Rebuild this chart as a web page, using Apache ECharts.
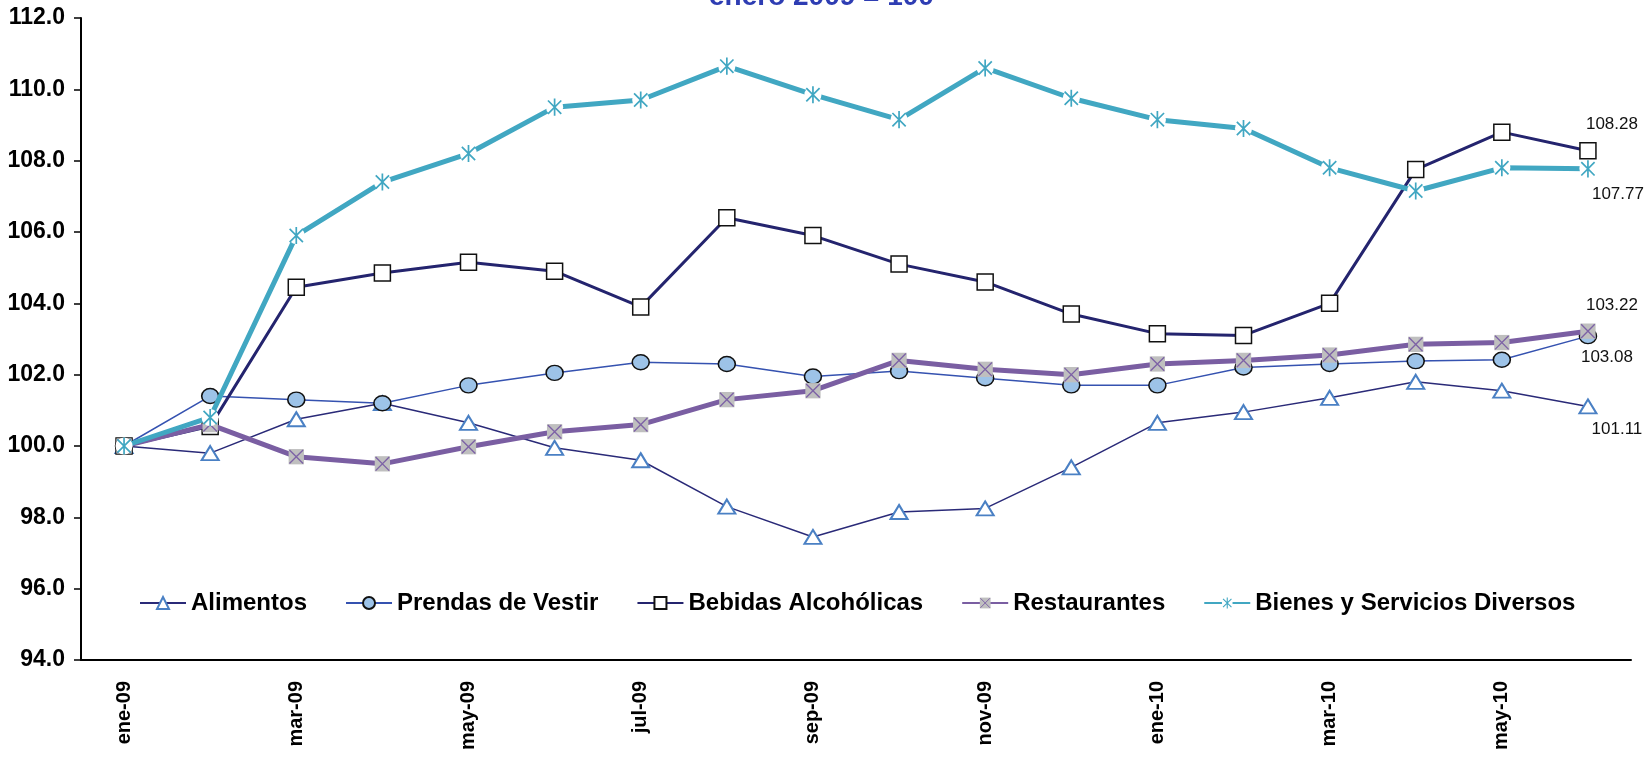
<!DOCTYPE html>
<html>
<head>
<meta charset="utf-8">
<script src="https://cdn.jsdelivr.net/npm/echarts@6/dist/echarts.min.js"></script>
<style>
  html, body { margin: 0; padding: 0; background: #fff; }
  #main { width: 1652px; height: 758px; }
</style>
</head>
<body>
<div id="main"></div>
<script>
// meses
const meses = ['ene-09','feb-09','mar-09','abr-09','may-09','jun-09','jul-09','ago-09','sep-09','oct-09','nov-09','dic-09',
               'ene-10','feb-10','mar-10','abr-10','may-10','jun-10'];

// indices (enero 2009 = 100)
const alimentos    = [100, 99.8, 100.75, 101.2, 100.65, 99.95, 99.6, 98.3, 97.45, 98.15, 98.25, 99.4, 100.65, 100.95, 101.35, 101.8, 101.55, 101.11];
const prendas      = [100, 101.4, 101.3, 101.2, 101.7, 102.05, 102.35, 102.3, 101.95, 102.1, 101.9, 101.7, 101.7, 102.2, 102.3, 102.38, 102.42, 103.08];
const bebidas      = [100, 100.55, 104.45, 104.85, 105.15, 104.9, 103.9, 106.4, 105.9, 105.1, 104.6, 103.7, 103.15, 103.1, 104.0, 107.75, 108.8, 108.28];
const restaurantes = [100, 100.6, 99.7, 99.5, 99.98, 100.4, 100.6, 101.3, 101.55, 102.4, 102.15, 102.0, 102.3, 102.4, 102.55, 102.85, 102.9, 103.22];
const bienes       = [100, 100.8, 105.9, 107.4, 108.2, 109.5, 109.7, 110.65, 109.85, 109.15, 110.6, 109.75, 109.15, 108.9, 107.8, 107.15, 107.8, 107.77];

const yTicks = { min: 94, max: 112, step: 2 };

const font = 'Liberation Sans, Arial, sans-serif';

// marcadores estilo excel como svg
function svgIcon(body) {
  return 'image://data:image/svg+xml;charset=utf-8,' + encodeURIComponent(
    "<svg xmlns='http://www.w3.org/2000/svg' width='20' height='20' viewBox='0 0 20 20'>" + body + "</svg>");
}
const markRest = svgIcon("<rect x='1' y='1' width='18' height='18' fill='#bfbfbf'/><path d='M2 2L18 18M18 2L2 18' stroke='#7d62a6' stroke-width='1.6'/>");
const markBien = svgIcon("<circle cx='10' cy='10' r='9' fill='#fff'/><path d='M3 3L17 17M17 3L3 17M10 1L10 19' stroke='#41a7c2' stroke-width='1.8'/>");

// solo la etiqueta del ultimo punto (centrada en el punto + desplazamiento)
function lastLabel(arr, offset) {
  return arr.map((v, i) => i === arr.length - 1 ? {
    value: v,
    label: { show: true, position: 'inside', align: 'center', verticalAlign: 'middle',
             offset: offset, formatter: v.toFixed(2),
             color: '#111', fontSize: 17, fontFamily: font }
  } : v);
}

const chart = echarts.init(document.getElementById('main'));
chart.setOption({
  backgroundColor: '#fff',
  animation: false,
  title: {
    text: 'enero 2009 = 100',
    left: 704, top: -22,
    textStyle: { color: '#2e3db3', fontSize: 28, fontWeight: 'bold', fontFamily: font }
  },
  legend: {
    top: 586, left: 134,
    itemWidth: 46, itemHeight: 15, itemGap: 38,
    textStyle: { color: '#000', fontSize: 24, fontWeight: 'bold', fontFamily: font },
    data: ['Alimentos', 'Prendas de Vestir', 'Bebidas Alcohólicas', 'Restaurantes', 'Bienes y Servicios Diversos']
  },
  grid: { left: 81, right: 21, top: 18, bottom: 98, containLabel: false },
  xAxis: {
    type: 'category',
    data: meses,
    boundaryGap: true,
    axisLine: { lineStyle: { color: '#000', width: 2 } },
    axisTick: { interval: 1, length: 10, lineStyle: { color: '#000', width: 1.5 } },
    axisLabel: { interval: 1, rotate: 90, margin: 21, color: '#000', fontSize: 20, fontWeight: 'bold',
                 fontFamily: font }
  },
  yAxis: {
    type: 'value',
    min: yTicks.min, max: yTicks.max, interval: yTicks.step,
    axisLine: { show: true, lineStyle: { color: '#000', width: 2 } },
    axisTick: { show: true, length: 7, lineStyle: { color: '#000', width: 1.5 } },
    splitLine: { show: false },
    axisLabel: { margin: 16, color: '#000', fontSize: 23, fontWeight: 'bold', fontFamily: font,
                 formatter: v => v.toFixed(1) }
  },
  series: [
    {
      name: 'Alimentos', type: 'line', data: lastLabel(alimentos, [29, 23]),
      symbol: 'triangle', symbolSize: [17, 14],
      lineStyle: { color: '#2a2a78', width: 1.5 },
      itemStyle: { color: '#fff', borderColor: '#4a80c4', borderWidth: 2 }, z: 2
    },
    {
      name: 'Prendas de Vestir', type: 'line', data: lastLabel(prendas, [19, 21]),
      symbol: 'circle', symbolSize: [17, 15],
      lineStyle: { color: '#3552b0', width: 1.5 },
      itemStyle: { color: '#9dc3e8', borderColor: '#111', borderWidth: 1.5 }, z: 3
    },
    {
      name: 'Bebidas Alcohólicas', type: 'line', data: lastLabel(bebidas, [24, -26]),
      symbol: 'rect', symbolSize: 16,
      lineStyle: { color: '#24246e', width: 3 },
      itemStyle: { color: '#fff', borderColor: '#111', borderWidth: 1.5 }, z: 4
    },
    {
      name: 'Restaurantes', type: 'line', data: lastLabel(restaurantes, [24, -26]),
      symbol: markRest, symbolSize: 17,
      lineStyle: { color: '#7a5ea2', width: 5 },
      itemStyle: { color: '#7a5ea2' }, z: 5
    },
    {
      name: 'Bienes y Servicios Diversos', type: 'line', data: lastLabel(bienes, [30, 25]),
      symbol: markBien, symbolSize: 19,
      lineStyle: { color: '#41a7c2', width: 5 },
      itemStyle: { color: '#41a7c2' }, z: 6
    }
  ]
});
</script>
</body>
</html>
